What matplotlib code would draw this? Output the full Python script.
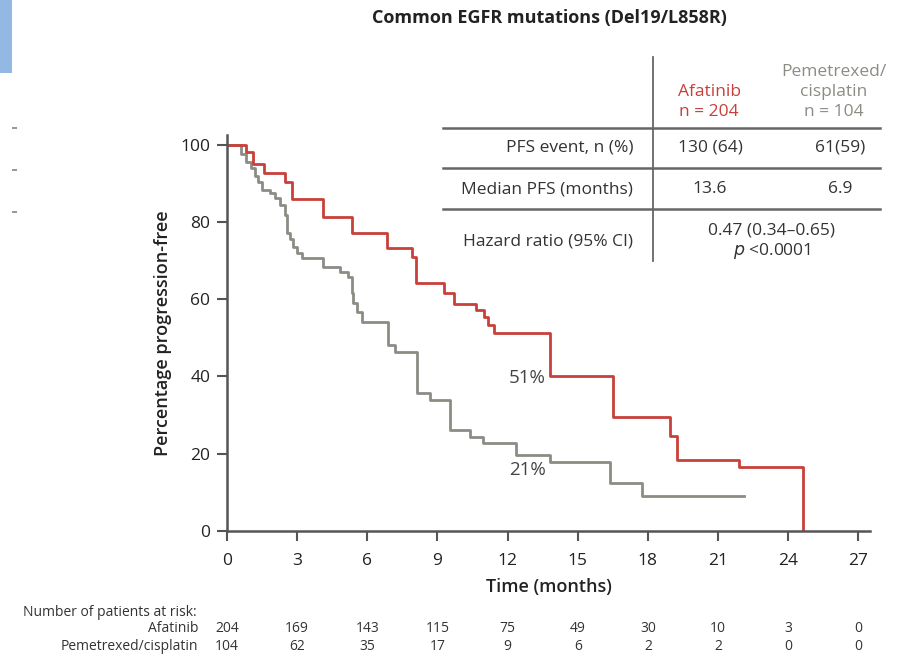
import matplotlib.pyplot as plt
from matplotlib.lines import Line2D
from matplotlib.patches import Rectangle

plt.rcParams['font.family'] = ['Open Sans', 'DejaVu Sans']

# Kaplan-Meier steps (months, % progression-free)
t_afa = [0, 0.8, 1.1, 1.6, 2.5, 2.8, 4.1, 5.35, 6.85, 7.9, 8.1, 9.3, 9.7, 10.65,
         11.0, 11.15, 11.4, 13.8, 16.5, 18.95, 19.25, 21.9, 24.65]
s_afa = [100, 98, 95, 92.7, 90.4, 86, 81.4, 77.2, 73.3, 71, 64.2, 61.7, 58.8, 57.3,
         55.5, 53.4, 51.2, 40, 29.5, 24.5, 18.5, 16.5, 0]

t_pem = [0, 0.6, 0.81, 1.01, 1.2, 1.34, 1.48, 1.84, 2.05, 2.27, 2.48, 2.55, 2.7, 2.84,
         2.98, 3.2, 4.12, 4.84, 5.19, 5.33, 5.4, 5.55, 5.76, 6.9, 7.2, 8.13, 8.69, 9.54,
         10.4, 10.97, 12.37, 13.8, 16.4, 17.75, 22.1]
s_pem = [100, 97.5, 95.5, 94, 92, 90.4, 88.3, 87.5, 86.2, 84.5, 81.9, 77.2, 75.5, 73.5,
         72, 70.7, 68.4, 67, 65.8, 61.7, 59, 56.7, 54.1, 48.2, 46.4, 35.7, 33.9, 26.2,
         24.4, 22.8, 19.7, 17.9, 12.4, 9.1, 9.1]

risk_times = [0, 3, 6, 9, 12, 15, 18, 21, 24, 27]
risk_afa = [204, 169, 143, 115, 75, 49, 30, 10, 3, 0]
risk_pem = [104, 62, 35, 17, 9, 6, 2, 2, 0, 0]

row_labels = ['PFS event, n (%)', 'Median PFS (months)']
col_afa = ['130 (64)', '13.6']
col_pem = ['61(59)', '6.9']

RED = '#c8403a'
GRAY = '#8b8c84'
DARK = '#333333'
W, H = 901, 656
TFS = 12.5  # table font size


def fx(x):
    return x / W


def fy(y):
    return 1 - y / H


fig = plt.figure(figsize=(9.01, 6.56), dpi=100)
ax = fig.add_axes([fx(227), fy(531), fx(870) - fx(227), fy(135) - fy(531)])

ax.step(t_pem, s_pem, where='post', color=GRAY, lw=2)
ax.step(t_afa, s_afa, where='post', color=RED, lw=2)

ax.set_xlim(0, 27.5)
ax.set_ylim(0, 102.5)
ax.set_xticks(risk_times)
ax.set_yticks([0, 20, 40, 60, 80, 100])
for sp in ['top', 'right']:
    ax.spines[sp].set_visible(False)
for sp in ['left', 'bottom']:
    ax.spines[sp].set_color('#555555')
    ax.spines[sp].set_linewidth(1.8)
ax.tick_params(colors='#555555', width=1.5, length=7, labelsize=12.5,
               labelcolor='#222222')
ax.tick_params(axis='x', pad=9)
ax.tick_params(axis='y', pad=5)
ax.set_ylabel('Percentage progression-free', fontsize=13, fontweight='semibold',
              color='#222222', labelpad=6)
ax.set_xlabel('Time (months)', fontsize=13, fontweight='semibold',
              color='#222222', labelpad=6)

ax.text(12.85, 39.6, '51%', color='#444444', fontsize=13.5, ha='center', va='center')
ax.text(12.85, 15.9, '21%', color='#444444', fontsize=13.5, ha='center', va='center')

# number at risk
RFS = 10
fig.text(fx(197), fy(612), 'Number of patients at risk:', fontsize=RFS,
         color=DARK, ha='right', va='center')
fig.text(fx(198), fy(629), 'Afatinib', fontsize=RFS, color=DARK, ha='right', va='center')
fig.text(fx(198), fy(647), 'Pemetrexed/cisplatin', fontsize=RFS, color=DARK,
         ha='right', va='center')
tr = ax.get_xaxis_transform()
for t, a, p in zip(risk_times, risk_afa, risk_pem):
    ax.text(t, -(629 - 531) / 396, str(a), transform=tr, fontsize=RFS, color=DARK,
            ha='center', va='center')
    ax.text(t, -(647 - 531) / 396, str(p), transform=tr, fontsize=RFS, color=DARK,
            ha='center', va='center')

# title
fig.text(fx(549), fy(18), 'Common EGFR mutations (Del19/L858R)', fontsize=13,
         fontweight='bold', color='#222222', ha='center', va='center')

# summary table
for y in [128, 168, 209]:
    fig.add_artist(Line2D([fx(443), fx(880)], [fy(y), fy(y)], color='#666666', lw=1.8))
fig.add_artist(Line2D([fx(653), fx(653)], [fy(57), fy(261)], color='#666666', lw=1.3))

fig.text(fx(709), fy(92), 'Afatinib', fontsize=TFS, color=RED, ha='center', va='center')
fig.text(fx(709), fy(112), 'n = 204', fontsize=TFS, color=RED, ha='center', va='center')
fig.text(fx(834), fy(72), 'Pemetrexed/', fontsize=TFS, color=GRAY, ha='center', va='center')
fig.text(fx(834), fy(92), 'cisplatin', fontsize=TFS, color=GRAY, ha='center', va='center')
fig.text(fx(834), fy(112), 'n = 104', fontsize=TFS, color=GRAY, ha='center', va='center')

for i, (lab, a, p) in enumerate(zip(row_labels, col_afa, col_pem)):
    y = 148 + i * 41
    fig.text(fx(633), fy(y), lab, fontsize=TFS, color=DARK, ha='right', va='center')
    fig.text(fx(710), fy(y), a, fontsize=TFS, color=DARK, ha='center', va='center')
    fig.text(fx(840), fy(y), p, fontsize=TFS, color=DARK, ha='center', va='center')
fig.text(fx(633), fy(241), 'Hazard ratio (95% CI)', fontsize=TFS, color=DARK,
         ha='right', va='center')
fig.text(fx(771), fy(231), '0.47 (0.34\u20130.65)', fontsize=TFS, color=DARK,
         ha='center', va='center')
fig.text(fx(772), fy(251), '$\\it{p}$ <0.0001', fontsize=TFS, color=DARK,
         ha='center', va='center')

# slide remnants on the left edge
fig.add_artist(Rectangle((0, fy(73)), fx(12), fy(0) - fy(73), color='#93b8e3', lw=0))
for y in [128, 170, 212]:
    fig.add_artist(Rectangle((fx(12), fy(y + 1)), fx(5), fy(y - 1) - fy(y + 1),
                             color='#999999', lw=0))

fig.savefig('out.png', dpi=100)
